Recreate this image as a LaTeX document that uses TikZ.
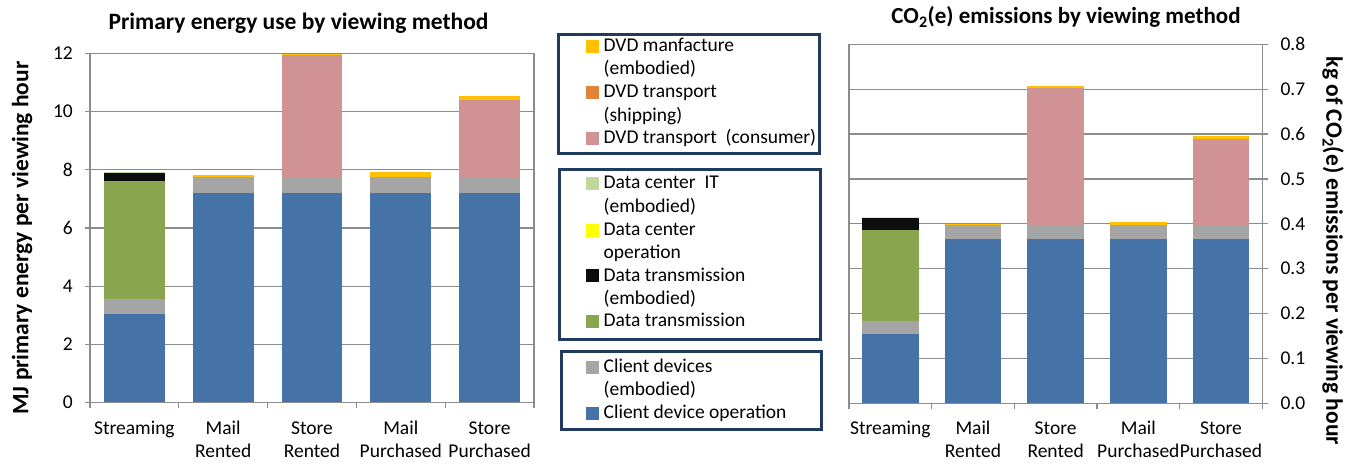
\documentclass[tikz,border=0pt]{standalone}
\usepackage{fontspec}
\setmainfont{Carlito}
\usetikzlibrary{positioning}

\definecolor{devop}{HTML}{4572A7}
\definecolor{devemb}{HTML}{A5A5A5}
\definecolor{dtrans}{HTML}{89A54E}
\definecolor{dtemb}{HTML}{0D0D0D}
\definecolor{dcop}{HTML}{FFFF00}
\definecolor{dcit}{HTML}{C3D69B}
\definecolor{dvdcons}{HTML}{D09292}
\definecolor{dvdship}{HTML}{E0843C}
\definecolor{dvdmfg}{HTML}{FFC000}
\definecolor{keyline}{HTML}{203A60}
\definecolor{gridgray}{HTML}{8C8C8C}

\newcommand{\catfont}{\fontsize{19.5}{23.3}\selectfont}
\newcommand{\headfont}{\fontsize{23.5}{28}\selectfont\bfseries}

\begin{document}
\begin{tikzpicture}[x=1pt,y=-1pt]
  \tikzset{gridln/.style={draw=gridgray, line width=1.2pt},
           legbox/.style={draw=keyline, line width=3pt},
           swatch/.style={minimum size=13pt, inner sep=0pt},
           legtext/.style={anchor=base west, align=left, inner sep=0pt, font=\catfont},
           ticklbl/.style={inner sep=0pt, font=\catfont},
           catlbl/.style={anchor=base, align=center, inner sep=0pt, font=\catfont}}
  \useasboundingbox (0,0) rectangle (1352,465);

  % energy chart
  \node (ttlE) at (298.6,23.3) {\headfont Primary energy use by viewing method};
  \node[rotate=90] (axE) at (22,238) {\headfont MJ primary energy per viewing hour};
  \begin{scope}[shift={(90,402.7)}, x=88.8pt, y=29.125pt]
    \foreach \v in {2,4,...,12} \draw[gridln] (0,\v) -- (5,\v);
    \foreach \i/\segs in {1/{3.06/devop,3.56/devemb,7.61/dtrans,7.89/dtemb,7.91/dcop,7.93/dcit},
                          2/{7.21/devop,7.75/devemb,7.82/dvdmfg},
                          3/{7.21/devop,7.75/devemb,11.94/dvdcons,11.98/dvdmfg},
                          4/{7.21/devop,7.75/devemb,7.92/dvdmfg},
                          5/{7.21/devop,7.75/devemb,10.40/dvdcons,10.53/dvdmfg}}
      \foreach \t/\c [remember=\t as \b (initially 0)] in \segs
        \fill[\c] (\i-0.843,\b) rectangle (\i-0.157,\t);
    \draw[gridln] (0,12) -- (5,12) -- (5,0) -- (0,0) -- cycle;
    \foreach \v in {0,2,...,12} {
      \draw[gridln] (0,\v) -- ++(-5pt,0);
      \node[ticklbl, anchor=east, xshift=-17pt] (tickE\v) at (0,\v) {\v};
    }
    \foreach \i in {0,...,5} \draw[gridln] (\i,0) -- ++(0,-5.3pt);
    % base of a two-line label is its last line
    \foreach \i/\d/\t in {1/31.6/Streaming,2/54.9/{Mail\\Rented},3/54.9/{Store\\Rented},
                          4/54.9/{Mail\\Purchased},5/54.9/{Store\\Purchased}}
      \node[catlbl, yshift=-\d pt] (catE\i) at (\i-0.5,0) {\t};
  \end{scope}

  % legend
  \draw[legbox] (558.5,34.5) rectangle (819.5,154);
  \draw[legbox] (559.5,169.5) rectangle (820,339);
  \draw[legbox] (561.5,351.5) rectangle (821,429);
  \foreach \n/\c/\y/\l/\t in {mfg/dvdmfg/45/1/{DVD manfacture\\(embodied)},
                              ship/dvdship/91.7/1/{DVD transport\\(shipping)},
                              cons/dvdcons/137.3/0/{DVD transport~ (consumer)},
                              dcit/dcit/182.7/1/{Data center~ IT\\(embodied)},
                              dcop/dcop/229/1/{Data center\\operation},
                              dtemb/dtemb/274.7/1/{Data transmission\\(embodied)},
                              dtrans/dtrans/320/0/{Data transmission},
                              devemb/devemb/366/1/{Client devices\\(embodied)},
                              devop/devop/412/0/{Client device operation}} {
    \node[swatch, fill=\c] (key\n) at (592.5,\y+1.2) {};
    \node[legtext] (txt\n) at (603.5,{\y+6.3+23.3*\l}) {\t};
  }

  % emissions chart
  \node (ttlC) at (1066,16.7) {\fontsize{23}{28}\selectfont\bfseries CO\textsubscript{2}(e) emissions by viewing method};
  \node[rotate=-90] (axC) at (1333,251) {\headfont kg of CO\textsubscript{2}(e) emissions per viewing hour};
  \begin{scope}[shift={(849,403.3)}, x=82.66pt, y=448.75pt]
    \foreach \v in {0.1,0.2,0.3,0.4,0.5,0.6,0.7,0.8} \draw[gridln] (0,\v) -- (5,\v);
    \foreach \i/\segs in {1/{0.155/devop,0.183/devemb,0.387/dtrans,0.413/dtemb,0.416/dcop},
                          2/{0.367/devop,0.397/devemb,0.400/dvdmfg},
                          3/{0.367/devop,0.397/devemb,0.703/dvdcons,0.706/dvdmfg},
                          4/{0.367/devop,0.397/devemb,0.403/dvdmfg},
                          5/{0.367/devop,0.397/devemb,0.590/dvdcons,0.595/dvdmfg}}
      \foreach \t/\c [remember=\t as \b (initially 0)] in \segs
        \fill[\c] (\i-0.843,\b) rectangle (\i-0.157,\t);
    \draw[gridln] (0,0.8) -- (5,0.8) -- (5,0) -- (0,0) -- cycle;
    \foreach \v [count=\k] in {0.0,0.1,0.2,0.3,0.4,0.5,0.6,0.7,0.8} {
      \draw[gridln] (5,\v) -- ++(5.5pt,0);
      \node[ticklbl, anchor=west, xshift=18pt] (tickC\k) at (5,\v) {\v};
    }
    \foreach \i in {0,...,5} \draw[gridln] (\i,0) -- ++(0,-5.3pt);
    \foreach \i/\d/\t in {1/31/Streaming,2/54.3/{Mail\\Rented},3/54.3/{Store\\Rented},
                          4/54.3/{Mail\\Purchased},5/54.3/{Store\\Purchased}}
      \node[catlbl, yshift=-\d pt] (catC\i) at (\i-0.5,0) {\t};
  \end{scope}
\end{tikzpicture}
\end{document}
